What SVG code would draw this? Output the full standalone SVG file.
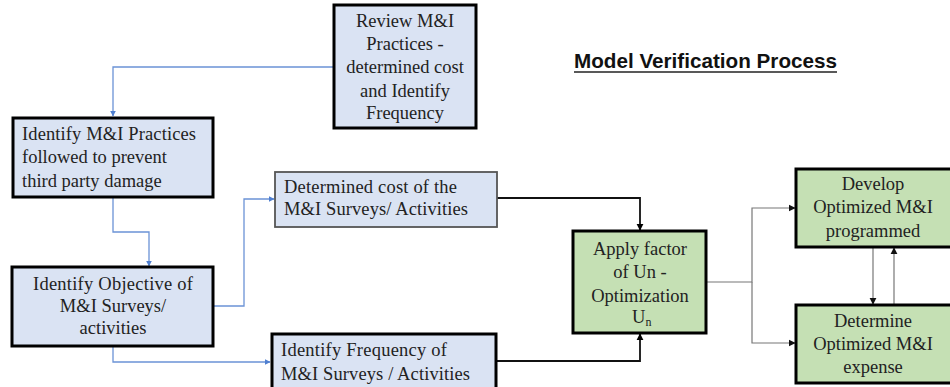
<svg xmlns="http://www.w3.org/2000/svg" width="950" height="387" viewBox="0 0 950 387">
  <defs>
    <marker id="arrBlue" viewBox="0 0 10 10" refX="9" refY="5" markerWidth="4.5" markerHeight="4.5" orient="auto">
      <path d="M0,0 L10,5 L0,10 z" fill="#4f7fd0"/>
    </marker>
    <marker id="arrBlack" viewBox="0 0 10 10" refX="9" refY="5" markerWidth="4" markerHeight="4" orient="auto">
      <path d="M0,0 L10,5 L0,10 z" fill="#000"/>
    </marker>
    <marker id="arrGray" viewBox="0 0 10 10" refX="9" refY="5" markerWidth="6" markerHeight="6" orient="auto">
      <path d="M0,0 L10,5 L0,10 z" fill="#111"/>
    </marker>
  </defs>
  <style>
    .blue { fill: #dae3f3; stroke: #000; stroke-width: 3; }
    .blueThin { fill: #dae3f3; stroke: #555; stroke-width: 1.8; }
    .green { fill: #c5e0b4; stroke: #000; stroke-width: 3; }
    .t { font-family: "Liberation Serif", "Times New Roman", serif; font-size: 18.5px; fill: #222; }
    .c { text-anchor: middle; }
    .title { font-family: "Liberation Sans", Arial, sans-serif; font-size: 20.5px; font-weight: bold; fill: #111; }
    .cb { fill: none; stroke: #6b93d6; stroke-width: 1.3; }
    .ck { fill: none; stroke: #111; stroke-width: 1.8; }
    .cg { fill: none; stroke: #777; stroke-width: 1.2; }
  </style>
  <rect width="950" height="387" fill="#fff"/>

  <!-- title -->
  <g id="title">
    <text class="title" x="574" y="68" textLength="263" lengthAdjust="spacingAndGlyphs">Model Verification Process</text>
    <line x1="574" y1="72" x2="837" y2="72" stroke="#222" stroke-width="1.6"/>
  </g>

  <!-- connectors -->
  <g id="connectors">
    <polyline class="cb" points="334,67 113,67 113,116" marker-end="url(#arrBlue)"/>
    <polyline class="cb" points="113,197 113,232 149,232 149,266" marker-end="url(#arrBlue)"/>
    <polyline class="cb" points="213,306 244,306 244,199 274,199" marker-end="url(#arrBlue)"/>
    <polyline class="cb" points="113,346 113,362 270,362" marker-end="url(#arrBlue)"/>
    <polyline class="ck" points="497,198 640,198 640,230" marker-end="url(#arrBlack)"/>
    <polyline class="ck" points="496,361 640,361 640,334" marker-end="url(#arrBlack)"/>
    <polyline class="cg" points="706,282 752,282 752,208 795,208" marker-end="url(#arrGray)"/>
    <polyline class="cg" points="752,282 752,343 795,343" marker-end="url(#arrGray)"/>
    <line class="cg" x1="873" y1="248" x2="873" y2="304" marker-end="url(#arrGray)"/>
    <line class="cg" x1="894" y1="305" x2="894" y2="248" marker-end="url(#arrGray)"/>
  </g>

  <!-- nodes -->
  <g id="review">
    <rect class="blue" x="334" y="5" width="142" height="123"/>
    <text class="t c" x="405" y="27">Review M&amp;I</text>
    <text class="t c" x="405" y="50">Practices -</text>
    <text class="t c" x="405" y="73">determined cost</text>
    <text class="t c" x="405" y="97">and Identify</text>
    <text class="t c" x="405" y="119">Frequency</text>
  </g>

  <g id="practices">
    <rect class="blue" x="13" y="118" width="200" height="79"/>
    <text class="t" x="22" y="140" textLength="174" lengthAdjust="spacing">Identify M&amp;I Practices</text>
    <text class="t" x="22" y="163">followed to prevent</text>
    <text class="t" x="22" y="187">third party damage</text>
  </g>

  <g id="cost">
    <rect class="blueThin" x="275" y="172" width="222" height="55"/>
    <text class="t" x="284" y="193" textLength="173" lengthAdjust="spacing">Determined cost of the</text>
    <text class="t" x="284" y="215" textLength="184" lengthAdjust="spacing">M&amp;I Surveys/ Activities</text>
  </g>

  <g id="objective">
    <rect class="blue" x="12" y="267" width="201" height="79"/>
    <text class="t c" x="113" y="290" textLength="160" lengthAdjust="spacing">Identify Objective of</text>
    <text class="t c" x="113" y="312">M&amp;I Surveys/</text>
    <text class="t c" x="113" y="334">activities</text>
  </g>

  <g id="frequency">
    <rect class="blue" x="272" y="334" width="224" height="60"/>
    <text class="t" x="281" y="356" textLength="166" lengthAdjust="spacing">Identify Frequency of</text>
    <text class="t" x="281" y="380" textLength="189" lengthAdjust="spacing">M&amp;I Surveys / Activities</text>
  </g>

  <g id="apply">
    <rect class="green" x="573" y="231" width="133" height="102"/>
    <text class="t c" x="640" y="255">Apply factor</text>
    <text class="t c" x="640" y="278">of Un -</text>
    <text class="t c" x="640" y="302">Optimization</text>
    <text class="t" x="632" y="323">U<tspan font-size="12" dy="3">n</tspan></text>
  </g>

  <g id="develop">
    <rect class="green" x="796" y="169" width="156" height="78"/>
    <text class="t c" x="873" y="190">Develop</text>
    <text class="t c" x="873" y="213">Optimized M&amp;I</text>
    <text class="t c" x="873" y="237">programmed</text>
  </g>

  <g id="determine">
    <rect class="green" x="796" y="305" width="156" height="78"/>
    <text class="t c" x="873" y="327">Determine</text>
    <text class="t c" x="873" y="350">Optimized M&amp;I</text>
    <text class="t c" x="873" y="373">expense</text>
  </g>
</svg>
